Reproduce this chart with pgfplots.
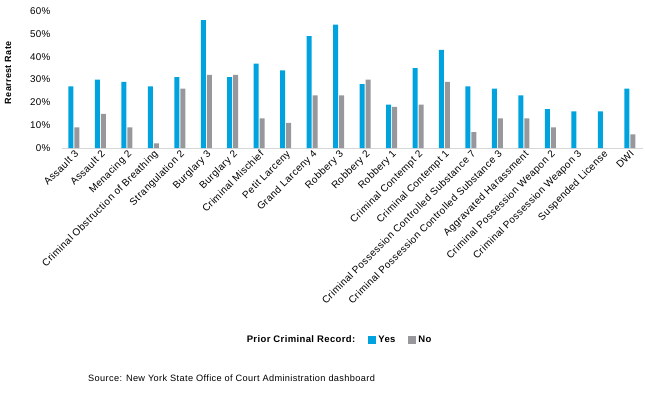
\documentclass[border=0pt]{standalone}
\usepackage{pgfplots}
\pgfplotsset{compat=1.18}
\usepackage{fontspec}
\setmainfont{Liberation Sans}[LetterSpace=4]
\definecolor{yesblue}{RGB}{0,163,222}
\definecolor{nogray}{RGB}{152,152,156}
\definecolor{basegray}{RGB}{215,215,215}
\begin{document}
\begin{tikzpicture}
\begin{axis}[
  name=ax,
  scale only axis, width=581pt, height=137pt,
  xmin=-0.45, xmax=21.5, ymin=0, ymax=60,
  ybar, bar width=5pt,
  ytick={0,10,...,60},
  yticklabel={\pgfmathprintnumber{\tick}\%},
  /pgf/number format/assume math mode=true,
  xtick={0,...,21},
  xticklabels={Assault 3,Assault 2,Menacing 2,Criminal Obstruction of Breathing,Strangulation 2,Burglary 3,Burglary 2,Criminal Mischief,Petit Larceny,Grand Larceny 4,Robbery 3,Robbery 2,Robbery 1,Criminal Contempt 2,Criminal Contempt 1,Criminal Possession Controlled Substance 7,Criminal Possession Controlled Substance 3,Aggravated Harassment,Criminal Possession Weapon 2,Criminal Possession Weapon 3,Suspended License,DWI},
  xticklabel style={rotate=45, anchor=north east, inner sep=1pt, font=\fontsize{10}{11}\selectfont},
  yticklabel style={font=\fontsize{9.8}{11}\selectfont, xshift=-8pt},
  axis x line*=bottom, axis y line*=left,
  x axis line style={draw=basegray, line width=0.8pt, -},
  y axis line style={draw=none},
  major tick length=0pt,
  ylabel={\textbf{Rearrest Rate}},
  every axis y label/.style={at={(rel axis cs:0,0.55)}, xshift=-54pt, rotate=90, anchor=center, font=\fontsize{9}{10}\selectfont},
  legend columns=3,
  legend cell align=left,
  legend style={at={(rel axis cs:0.477,-1.40)}, anchor=center, draw=none, font=\bfseries\fontsize{9.5}{10}\selectfont,
    /tikz/every even column/.append style={column sep=11pt}},
]
\addlegendimage{empty legend}
\addlegendentry{Prior Criminal Record:}
\addplot[fill=yesblue, draw=none, bar shift=-3pt,
  legend image code/.code={\fill[yesblue] (0pt,-4pt) rectangle (8pt,4pt);}] coordinates {
 (0,27) (1,30) (2,29) (3,27) (4,31) (5,56) (6,31) (7,37) (8,34) (9,49) (10,54)
 (11,28) (12,19) (13,35) (14,43) (15,27) (16,26) (17,23) (18,17) (19,16) (20,16) (21,26)};
\addlegendentry{Yes}
\addplot[fill=nogray, draw=none, bar shift=3pt,
  legend image code/.code={\fill[nogray] (0pt,-4pt) rectangle (8pt,4pt);}] coordinates {
 (0,9) (1,15) (2,9) (3,2) (4,26) (5,32) (6,32) (7,13) (8,11) (9,23) (10,23)
 (11,30) (12,18) (13,19) (14,29) (15,7) (16,13) (17,13) (18,9) (21,6)};
\addlegendentry{No}
\end{axis}
\node[anchor=west, inner sep=0pt, font=\fontsize{9.2}{10}\selectfont] at ([xshift=26pt,yshift=-230pt]ax.south west) {Source: New York State Office of Court Administration dashboard};
\pgfresetboundingbox
\useasboundingbox ([xshift=-62pt,yshift=148pt]ax.south west) rectangle ([xshift=583pt,yshift=-244pt]ax.south west);
\end{tikzpicture}
\end{document}
